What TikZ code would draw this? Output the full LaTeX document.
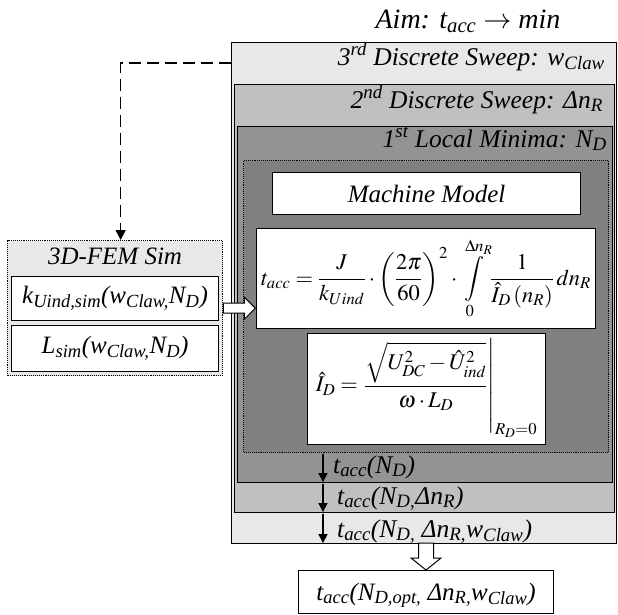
\documentclass[tikz,border=0pt]{standalone}
\usepackage{mathptmx}
\usepackage[no-math]{fontspec}
\setmainfont{Liberation Serif}[ItalicFont={Liberation Serif Italic}]
\usetikzlibrary{arrows.meta,calc}
\definecolor{outerc}{HTML}{E8E8E8}
\definecolor{secc}{HTML}{C0C0C0}
\definecolor{firstc}{HTML}{939393}
\definecolor{dotc}{HTML}{808080}
\definecolor{femc}{HTML}{E8E8E8}
\begin{document}
\begin{tikzpicture}[x=1pt,y=-1pt,
  box/.style={draw, line width=1.1pt, anchor=north west, inner sep=0pt},
  lbl/.style={font=\fontsize{25.5}{30}\selectfont\itshape, anchor=base east, inner sep=0pt},
  tl/.style={font=\fontsize{25.5}{29}\selectfont\itshape, anchor=base west, inner sep=0pt},
  txt/.style={font=\fontsize{25}{29}\selectfont\itshape},
  mth/.style={font=\fontsize{22.5}{27}\selectfont},
  sarrow/.style={line width=1.3pt, -{Triangle[length=9pt,width=9pt]}},
  hollow/.style={draw, line width=1pt, fill=white, line join=miter},
]
\useasboundingbox (0,0) rectangle (618,614);

% title
\node[font=\fontsize{28}{32}\selectfont\itshape, anchor=base, inner sep=0pt] (aim) at (468,28) {Aim: t\textsubscript{acc} $\rightarrow$ min};

% nested boxes
\node[box, fill=outerc, minimum width=385pt, minimum height=501pt] (outer) at (231,42) {};
\node[box, fill=secc, minimum width=380pt, minimum height=428pt] (second) at (234,84) {};
\node[box, fill=firstc, minimum width=375pt, minimum height=356pt] (first) at (237,126) {};
\node[box, densely dotted, line width=1.2pt, fill=dotc, minimum width=365pt, minimum height=292pt] (dot) at (243,160) {};

\node[lbl] (l3) at (605,65) {3\textsuperscript{rd} Discrete Sweep: w\textsubscript{Claw}};
\node[lbl] (l2) at (603,108) {2\textsuperscript{nd} Discrete Sweep: Δn\textsubscript{R}};
\node[lbl] (l1) at (607,147) {1\textsuperscript{st} Local Minima: N\textsubscript{D}};

% machine model
\node[box, fill=white, minimum width=308pt, minimum height=42pt, txt] (mm) at (272,172) {Machine Model};

% formula 1
\node[box, fill=white, minimum width=339pt, minimum height=100pt] (f1) at (256,228) {};
\node[mth, inner sep=0pt] (f1t) at (f1.center) {$\displaystyle t_{acc}=\frac{J}{k_{Uind}}\cdot\left(\frac{2\pi}{60}\right)^{2}\cdot\int\limits_{0}^{\Delta n_R}\frac{1}{\hat{I}_D\left(n_R\right)}\,dn_R$};

% formula 2
\node[box, fill=white, minimum width=238pt, minimum height=111pt] (f2) at (307,333) {};
\node[font=\fontsize{22.5}{27}\selectfont, inner sep=0pt] (f2t) at ([yshift=1pt]f2.center) {$\displaystyle \hat{I}_D=\left.\frac{\sqrt{U_{DC}^{2}-\hat{U}_{ind}^{2}}}{\omega\cdot L_D}\right|_{R_D=0}$};

% t_acc labels and arrows
\coordinate (ax) at (323,0);
\node[tl] (t1) at (333,473) {t\textsubscript{acc}(N\textsubscript{D})};
\node[tl] (t2) at (337,504) {t\textsubscript{acc}(N\textsubscript{D,}Δn\textsubscript{R})};
\node[tl] (t3) at (337,537) {t\textsubscript{acc}(N\textsubscript{D,} Δn\textsubscript{R,}w\textsubscript{Claw})};
\draw[sarrow] ([yshift=-0.6pt]dot.south -| ax) -- ([yshift=1pt]first.south -| ax);
\draw[sarrow] ([yshift=-0.6pt]first.south -| ax) -- ([yshift=1pt]second.south -| ax);
\draw[sarrow] ([yshift=-0.6pt]second.south -| ax) -- ([yshift=1pt]outer.south -| ax);

% result box
\node[box, fill=white, minimum width=255pt, minimum height=43pt] (res) at (298,570) {};
\node[font=\fontsize{25}{29}\selectfont\itshape, anchor=base, inner sep=0pt] (rest) at ($(res.center)+(0,8)$) {t\textsubscript{acc}(N\textsubscript{D,opt,} Δn\textsubscript{R,}w\textsubscript{Claw})};

% hollow down arrow
\draw[hollow] (res.north) -- ++(-15,-12) -- ++(7.5,0) -- ++(0,-15) -- ++(15,0) -- ++(0,15) -- ++(7.5,0) -- cycle;

% FEM box
\node[box, densely dotted, line width=1.3pt, fill=femc, minimum width=215pt, minimum height=135pt] (fem) at (7,240) {};
\node[txt, anchor=base, inner sep=0pt] (femt) at (115,264) {3D-FEM Sim};
\node[box, fill=white, minimum width=207pt, minimum height=44pt, txt] (kb) at (11,276) {k\textsubscript{Uind,sim}(w\textsubscript{Claw,}N\textsubscript{D})};
\node[box, fill=white, minimum width=207pt, minimum height=46pt, txt] (lb) at (11,325) {L\textsubscript{sim}(w\textsubscript{Claw,}N\textsubscript{D})};

% hollow right arrow
\draw[hollow] ([yshift=5pt]fem.east) -- ++(21,0) -- ++(0,-6) -- ++(11,11) -- ++(-11,11) -- ++(0,-6) -- ++(-21,0) -- cycle;

% dashed feedback
\draw[line width=1.5pt, dash pattern=on 12pt off 6pt, -{Triangle[length=10pt,width=10pt]}] ($(outer.north west)+(0,21)$) -| ([xshift=5.5pt]fem.north);
\end{tikzpicture}
\end{document}
